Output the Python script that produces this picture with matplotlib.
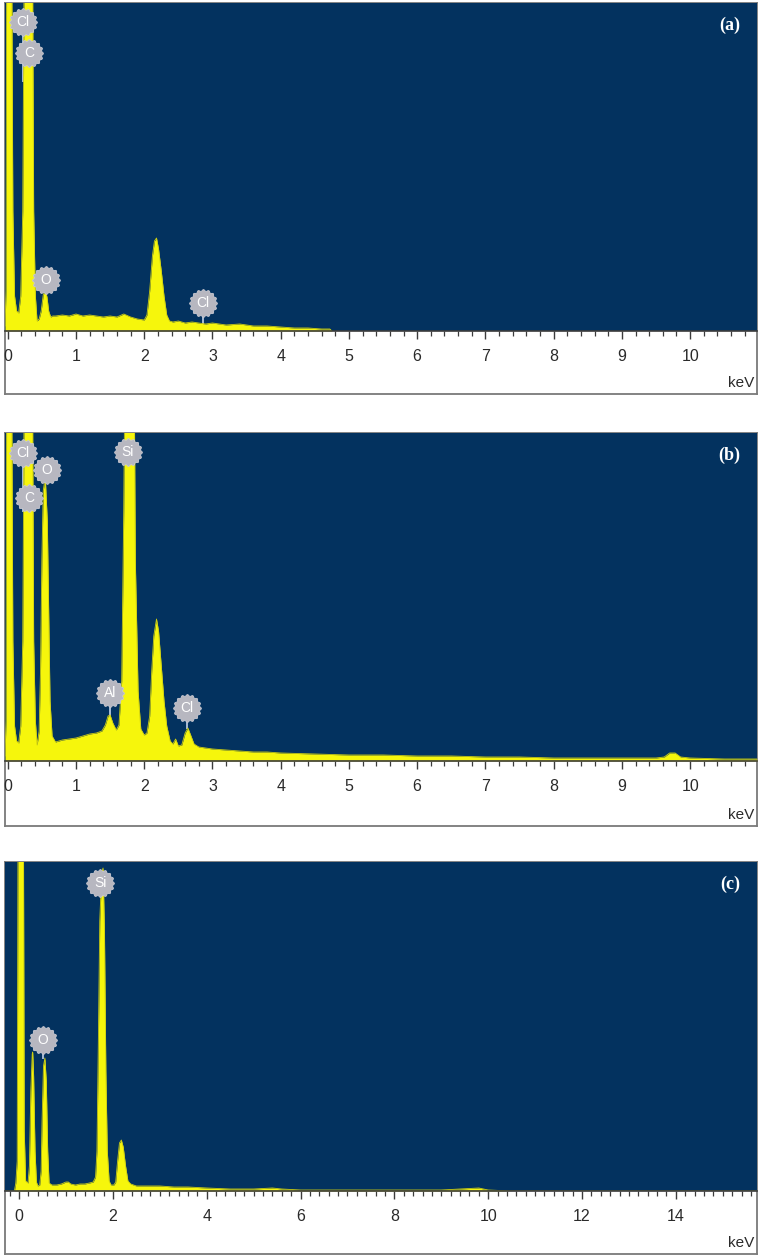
import numpy as np
import matplotlib.pyplot as plt
from matplotlib.path import Path
from matplotlib.ticker import MultipleLocator

plt.rcParams['font.family'] = ['Liberation Sans', 'DejaVu Sans']

# ---- spectrum (a) ----
energy_a = [-0.04, -0.025, -0.015, 0.055, 0.075, 0.10, 0.13, 0.16, 0.19, 0.22, 0.245,
            0.36, 0.38, 0.405, 0.43, 0.46, 0.49, 0.52, 0.55, 0.575, 0.60, 0.63, 0.66,
            0.70, 0.80, 0.90, 1.00, 1.10, 1.20, 1.30, 1.40, 1.50, 1.60, 1.70, 1.80,
            1.90, 2.00, 2.04, 2.08, 2.12, 2.15, 2.18, 2.21, 2.25, 2.29, 2.33, 2.37,
            2.42, 2.50, 2.60, 2.70, 2.80, 2.90, 3.00, 3.20, 3.40, 3.60, 3.80, 4.00,
            4.20, 4.40, 4.60, 4.72, 4.75]
counts_a = [5, 40, 420, 420, 120, 35, 20, 18, 35, 120, 420,
            420, 120, 35, 10, 12, 20, 36, 41, 34, 20, 14, 15,
            15, 16, 15, 17, 15, 16, 15, 14, 15, 14, 17, 14,
            12, 11, 16, 40, 75, 90, 93, 82, 60, 35, 16, 10,
            9, 10, 8, 9, 8, 7, 8, 6, 7, 5, 5, 4,
            3, 3, 2, 2, 0]
labels_a = ['Cl', 'C', 'O', 'Cl']
label_kev_a = [0.22, 0.31, 0.56, 2.86]
label_h_a = [309, 278, 51, 28]
stem_h_a = [250, 200, 36, 8]

# ---- spectrum (b) ----
energy_b = [-0.04, -0.025, -0.015, 0.055, 0.075, 0.10, 0.13, 0.16, 0.19, 0.22, 0.245,
            0.36, 0.38, 0.405, 0.43, 0.46, 0.48, 0.50, 0.52, 0.55, 0.58, 0.60, 0.62,
            0.65, 0.70, 0.80, 0.90, 1.00, 1.10, 1.20, 1.30, 1.38, 1.43, 1.47, 1.50,
            1.54, 1.59, 1.63, 1.67, 1.70, 1.72, 1.85, 1.87, 1.91, 1.95, 2.00, 2.04,
            2.08, 2.11, 2.14, 2.18, 2.21, 2.25, 2.29, 2.33, 2.38, 2.42, 2.46, 2.50,
            2.55, 2.60, 2.64, 2.68, 2.73, 2.80, 2.90, 3.00, 3.20, 3.40, 3.60, 3.80,
            4.00, 4.50, 5.00, 5.50, 6.00, 6.50, 7.00, 7.50, 8.00, 8.50, 9.00, 9.50,
            9.62, 9.70, 9.78, 9.86, 10.00, 10.50, 10.98]
counts_b = [5, 40, 420, 420, 120, 35, 20, 18, 35, 120, 420,
            420, 120, 40, 16, 30, 90, 200, 270, 284, 240, 150, 60,
            25, 19, 21, 22, 23, 25, 27, 28, 30, 36, 45, 46,
            38, 31, 36, 80, 250, 420, 420, 200, 70, 32, 26, 28,
            45, 90, 125, 142, 130, 95, 60, 35, 20, 17, 22, 15,
            16, 28, 33, 26, 17, 14, 13, 12, 11, 10, 9, 9,
            8, 7, 6, 6, 5, 5, 4, 4, 3, 3, 3, 3,
            4, 8, 8, 4, 3, 2, 2]
labels_b = ['Cl', 'O', 'C', 'Si', 'Al', 'Cl']
label_kev_b = [0.22, 0.57, 0.31, 1.76, 1.50, 2.63]
label_h_b = [308, 291, 263, 309, 68, 53]
stem_h_b = [250, 280, 200, 250, 46, 33]

# ---- spectrum (c) ----
energy_c = [-0.30, -0.10, -0.07, -0.04, -0.02, 0.09, 0.11, 0.14, 0.19, 0.22, 0.25,
            0.28, 0.29, 0.31, 0.34, 0.37, 0.40, 0.44, 0.47, 0.49, 0.52, 0.55, 0.58,
            0.61, 0.64, 0.70, 0.80, 0.90, 1.00, 1.05, 1.10, 1.20, 1.30, 1.40, 1.50,
            1.58, 1.63, 1.66, 1.69, 1.72, 1.76, 1.79, 1.82, 1.85, 1.88, 1.92, 1.96,
            2.02, 2.06, 2.10, 2.14, 2.18, 2.22, 2.27, 2.32, 2.38, 2.50, 2.70, 3.00,
            3.30, 3.60, 4.00, 4.50, 5.00, 5.40, 5.60, 6.00, 7.00, 8.00, 9.00, 9.80,
            10.00, 10.50, 15.75]
counts_c = [0, 0, 8, 30, 420, 420, 60, 10, 8, 25, 100,
            137, 139, 115, 40, 9, 5, 6, 20, 70, 125, 133, 110,
            40, 8, 6, 6, 7, 9, 9, 7, 6, 7, 7, 8,
            9, 14, 40, 150, 270, 318, 323, 260, 120, 40, 10, 6,
            6, 9, 30, 48, 51, 44, 25, 10, 7, 5, 5, 5,
            4, 4, 3, 2, 2, 3, 2, 1, 1, 1, 1, 3,
            1, 0, 0]
labels_c = ['Si', 'O']
label_kev_c = [1.73, 0.51]
label_h_c = [308, 151]
stem_h_c = [300, 133]

W, H = 759, 1256
fig = plt.figure(figsize=(W / 100, H / 100), dpi=100)


def box(x0, y0, x1, y1):
    return [x0 / W, 1 - y1 / H, (x1 - x0) / W, (y1 - y0) / H]


# scalloped badge used for element markers
theta = np.linspace(0, 2 * np.pi, 181)
rad = 1 + 0.06 * np.cos(16 * theta)
badge = Path(np.column_stack([rad * np.cos(theta), rad * np.sin(theta)]), closed=True)

NAVY = '#03325f'
YELLOW = '#f6f60c'

panels = [
    dict(e=energy_a, c=counts_a, lab=labels_a, lk=label_kev_a, lh=label_h_a, sh=stem_h_a,
         top=3, axis=331, bottom=394, xlim=(-0.04, 10.98), major=1, tag='(a)'),
    dict(e=energy_b, c=counts_b, lab=labels_b, lk=label_kev_b, lh=label_h_b, sh=stem_h_b,
         top=433, axis=761, bottom=826, xlim=(-0.04, 10.98), major=1, tag='(b)'),
    dict(e=energy_c, c=counts_c, lab=labels_c, lk=label_kev_c, lh=label_h_c, sh=stem_h_c,
         top=862, axis=1191, bottom=1254, xlim=(-0.30, 15.73), major=2, tag='(c)'),
]

for p in panels:
    # white outer frame holding the energy scale
    frame = fig.add_axes(box(5, p['top'], 757, p['bottom']))
    frame.set_xticks([])
    frame.set_yticks([])
    for s in frame.spines.values():
        s.set_color('#7a7a7a')
        s.set_linewidth(1.3)

    ax = fig.add_axes(box(5, p['top'], 757, p['axis']))
    ax.set_facecolor(NAVY)
    ax.fill_between(p['e'], 0, p['c'], color=YELLOW, lw=0, zorder=2)
    ax.plot(p['e'], p['c'], color='#cfcf10', lw=0.6, zorder=2)
    ax.set_xlim(*p['xlim'])
    ax.set_ylim(0, p['axis'] - p['top'])

    for name, k, h, sh in zip(p['lab'], p['lk'], p['lh'], p['sh']):
        # stems sit behind the spectrum so only the part above a peak shows
        ax.plot([k, k], [h, sh], color='#a9bcd6', lw=1.4, zorder=1.5)
        ax.plot(k, h, marker=badge, ms=20, color='#b7b7c0', mec='#c9c9d2', mew=0.6, zorder=4)
        ax.text(k, h, name, color='white', fontsize=10, ha='center', va='center', zorder=5)

    ax.text(0.978, 1 - 22 / (p['axis'] - p['top']), p['tag'], transform=ax.transAxes,
            ha='right', va='center', color='white', fontsize=13, fontweight='bold',
            family=['Liberation Serif', 'DejaVu Serif'])

    for side in ['top', 'left', 'right']:
        ax.spines[side].set_visible(False)
    ax.spines['bottom'].set_color('#3c3c3c')
    ax.spines['bottom'].set_linewidth(1.2)
    ax.set_yticks([])
    ax.xaxis.set_major_locator(MultipleLocator(p['major']))
    ax.xaxis.set_minor_locator(MultipleLocator(0.2))
    ax.tick_params(axis='x', which='major', direction='out', length=6, width=1,
                   color='#3c3c3c', labelsize=11.5, labelcolor='#2a2a2a', pad=7)
    ax.tick_params(axis='x', which='minor', direction='out', length=3.5, width=0.9,
                   color='#3c3c3c')
    ax.xaxis.set_major_formatter(plt.FuncFormatter(lambda v, pos: f'{v:.0f}'))

    fig.text(754 / W, 1 - (p['bottom'] - 11) / H, 'keV', ha='right', va='center',
             fontsize=11, color='#2a2a2a')

fig.savefig('out.png', dpi=100)
